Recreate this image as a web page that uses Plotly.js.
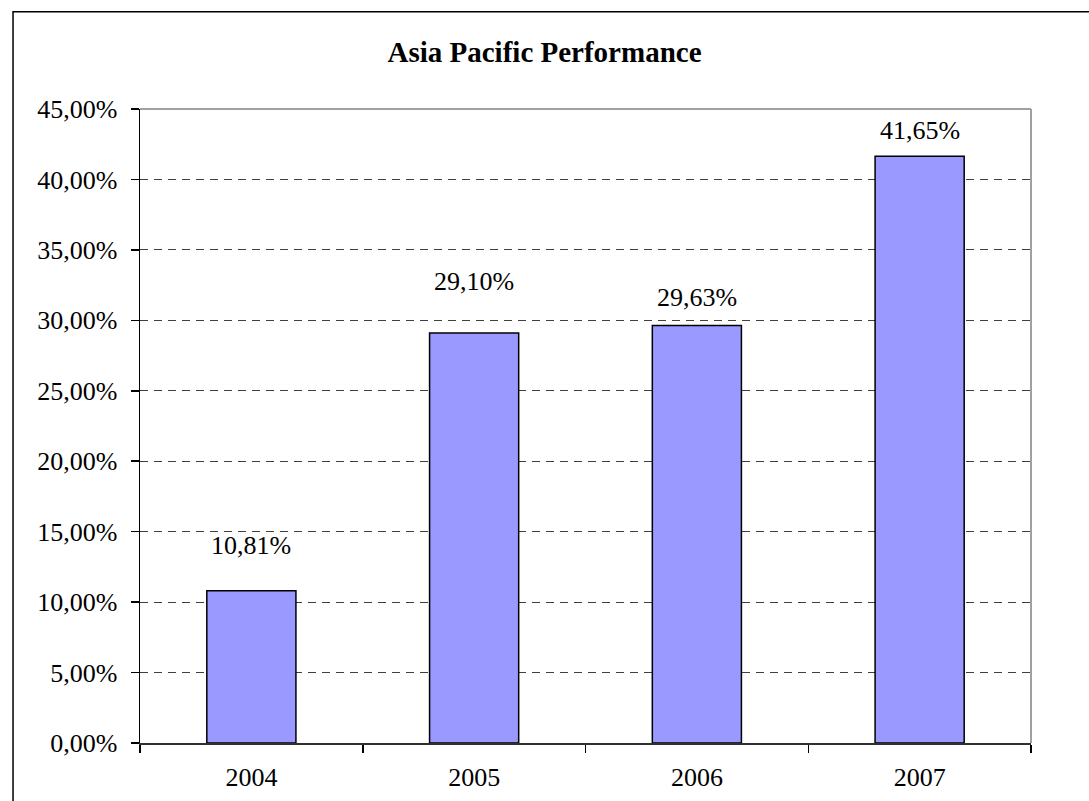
<!DOCTYPE html>
<html>
<head>
<meta charset="utf-8">
<script src="https://cdn.plot.ly/plotly-3.0.1.min.js"></script>
<style>
html,body{margin:0;padding:0;background:#fff;}
#chart{width:1089px;height:801px;}
</style>
</head>
<body>
<div id="chart"></div>
<script>
// Data
const years = ['2004', '2005', '2006', '2007'];
const performance = [10.81, 29.10, 29.63, 41.65];
const labelTexts = ['10,81%', '29,10%', '29,63%', '41,65%'];
const yTickVals = [0, 5, 10, 15, 20, 25, 30, 35, 40, 45];
const yTickText = ['0,00%', '5,00%', '10,00%', '15,00%', '20,00%', '25,00%', '30,00%', '35,00%', '40,00%', '45,00%'];

// Label offsets (pixels above bar top), as placed in the original
const labelShift = [45, 52, 28, 26];

const FONT = 'Liberation Serif, Times New Roman, serif';

const trace = {
  type: 'bar',
  x: years,
  y: performance,
  marker: {color: '#9999FF', line: {color: '#000000', width: 1.5}},
  hoverinfo: 'skip'
};

// category axis: annotations use the category index
const annotations = years.map((yr, i) => ({
  x: i, y: performance[i], xref: 'x', yref: 'y',
  text: labelTexts[i], showarrow: false,
  yanchor: 'middle', yshift: labelShift[i],
  font: {family: FONT, size: 26, color: '#000'}
}));

const layout = {
  width: 1089, height: 801,
  margin: {l: 140, r: 58, t: 109, b: 58, pad: 0},
  paper_bgcolor: '#ffffff', plot_bgcolor: '#ffffff',
  showlegend: false,
  bargap: 0.6,
  title: {
    text: '<b>Asia Pacific Performance</b>',
    font: {family: FONT, size: 29, color: '#000'},
    x: 0.5, xref: 'container', xanchor: 'center',
    y: 0.935, yref: 'container', yanchor: 'middle'
  },
  xaxis: {
    type: 'category',
    range: [-0.5, 3.5],
    tickson: 'boundaries',
    ticks: 'outside', ticklen: 8, tickwidth: 1.5, tickcolor: '#000',
    ticklabelstandoff: 10,
    showline: true, linecolor: '#303030', linewidth: 2,
    showgrid: false, zeroline: false,
    tickfont: {family: FONT, size: 26, color: '#000'},
    fixedrange: true
  },
  yaxis: {
    range: [0, 45],
    tickvals: yTickVals, ticktext: yTickText,
    ticks: 'outside', ticklen: 8, tickwidth: 1.5, tickcolor: '#000',
    ticklabelstandoff: 8,
    showline: true, linecolor: '#000', linewidth: 1.5,
    showgrid: true, gridcolor: '#404040', gridwidth: 1, griddash: '8px,6px',
    zeroline: false,
    tickfont: {family: FONT, size: 26, color: '#000'},
    fixedrange: true
  },
  annotations: annotations,
  shapes: [
    // plot area border (top & right gray)
    {type: 'line', xref: 'paper', yref: 'paper', x0: 0, x1: 1, y0: 1, y1: 1,
     line: {color: '#a0a0a0', width: 2}},
    {type: 'line', xref: 'paper', yref: 'paper', x0: 1, x1: 1, y0: 0, y1: 1,
     line: {color: '#a0a0a0', width: 2}},
    // outer chart border (extends beyond the page at right and bottom)
    {type: 'rect', xref: 'paper', yref: 'paper', x0: -0.1425, x1: 1.2, y0: -0.3, y1: 1.1535,
     line: {color: '#000', width: 1.5}, fillcolor: 'rgba(0,0,0,0)', layer: 'below'}
  ]
};

Plotly.newPlot('chart', [trace], layout, {displayModeBar: false, staticPlot: true});
</script>
</body>
</html>
